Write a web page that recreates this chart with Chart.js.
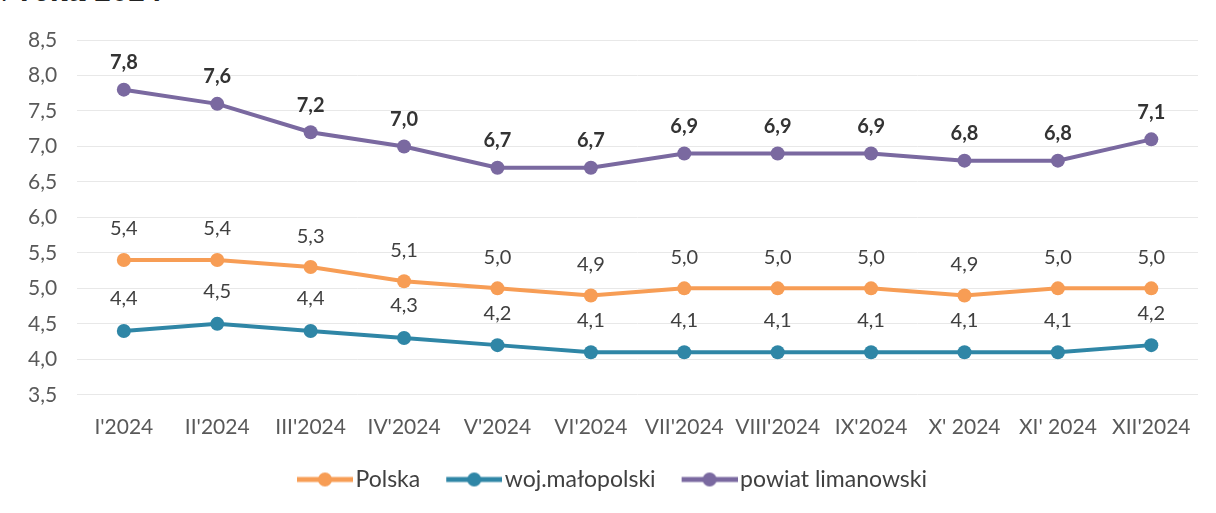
<!DOCTYPE html>
<html>
<head>
<meta charset="utf-8">
<script src="https://cdn.jsdelivr.net/npm/chart.js@4"></script>
<style>
  html, body { margin: 0; padding: 0; background: #fff; }
  #wrap { position: relative; width: 1216px; height: 513px; overflow: hidden; }
  #title { position: absolute; left: -10px; top: -27px; font: italic bold 34px "Liberation Serif", serif; color: #222; line-height: 34px; white-space: nowrap; }
  canvas { position: absolute; left: 0; top: 0; }
</style>
</head>
<body>
<div id="wrap">
  <div id="title">w roku 2024</div>
  <canvas id="chart" width="1216" height="513"></canvas>
</div>
<script>
const months = ["I'2024", "II'2024", "III'2024", "IV'2024", "V'2024", "VI'2024",
    "VII'2024", "VIII'2024", "IX'2024", "X' 2024", "XI' 2024", "XII'2024"];
const polska = [5.4, 5.4, 5.3, 5.1, 5.0, 4.9, 5.0, 5.0, 5.0, 4.9, 5.0, 5.0];
const malopolska = [4.4, 4.5, 4.4, 4.3, 4.2, 4.1, 4.1, 4.1, 4.1, 4.1, 4.1, 4.2];
const limanowski = [7.8, 7.6, 7.2, 7.0, 6.7, 6.7, 6.9, 6.9, 6.9, 6.8, 6.8, 7.1];
const yTicks = [3.5, 4.0, 4.5, 5.0, 5.5, 6.0, 6.5, 7.0, 7.5, 8.0, 8.5];

const FONT = 'Lato, "Noto Sans", sans-serif';
const fmt = v => v.toFixed(1).replace('.', ',');

// ikonka legendy: pusty odstęp + kreska z kropką
function legendIcon(color) {
    const c = document.createElement('canvas');
    c.width = 83; c.height = 16;
    const ctx = c.getContext('2d');
    ctx.strokeStyle = color;
    ctx.lineWidth = 5;
    ctx.beginPath();
    ctx.moveTo(27, 8);
    ctx.lineTo(83, 8);
    ctx.stroke();
    ctx.fillStyle = color;
    ctx.beginPath();
    ctx.arc(55, 8, 7, 0, Math.PI * 2);
    ctx.fill();
    return c;
}

const valueLabels = {
    id: 'valueLabels',
    afterDatasetsDraw(chart) {
        const ctx = chart.ctx;
        ctx.save();
        ctx.textAlign = 'center';
        ctx.textBaseline = 'middle';
        chart.data.datasets.forEach((ds, i) => {
            const meta = chart.getDatasetMeta(i);
            ctx.font = (ds.boldLabels ? 'bold ' : '') + '20px ' + FONT;
            ctx.fillStyle = ds.boldLabels ? '#333333' : '#404040';
            meta.data.forEach((pt, j) => {
                ctx.fillText(fmt(ds.data[j]), pt.x, pt.y - ds.labelOffset);
            });
        });
        ctx.restore();
    }
};

function series(label, data, color, offset, bold) {
    return {
        label: label,
        data: data,
        borderColor: color,
        backgroundColor: color,
        borderWidth: 4,
        pointRadius: 7,
        pointHoverRadius: 7,
        pointBackgroundColor: color,
        pointBorderWidth: 0,
        tension: 0,
        labelOffset: offset,
        boldLabels: bold,
        icon: legendIcon(color)
    };
}

new Chart(document.getElementById('chart'), {
    type: 'line',
    data: {
        labels: months,
        datasets: [
            series('Polska', polska, '#F79D55', 31, false),
            series('woj.małopolski', malopolska, '#2F86A6', 32, false),
            series('powiat limanowski', limanowski, '#7A69A0', 27, true)
        ]
    },
    plugins: [valueLabels],
    options: {
        responsive: false,
        animation: false,
        events: [],
        layout: { padding: { left: 8, right: 18, top: 40, bottom: 12 } },
        scales: {
            x: {
                offset: true,
                grid: { display: false, drawTicks: false },
                border: { display: false },
                ticks: { color: '#595959', font: { family: FONT, size: 21 }, padding: 20, maxRotation: 0, autoSkip: false }
            },
            y: {
                min: 3.5,
                max: 8.5,
                afterBuildTicks: axis => { axis.ticks = yTicks.map(v => ({ value: v })); },
                grid: { color: '#e8e8e8', lineWidth: 1, drawTicks: false },
                border: { display: false },
                ticks: { color: '#595959', font: { family: FONT, size: 21 }, padding: 20, callback: v => fmt(v) }
            }
        },
        plugins: {
            legend: {
                position: 'bottom',
                labels: {
                    color: '#404040',
                    font: { family: FONT, size: 23 },
                    usePointStyle: true,
                    pointStyleWidth: 65,
                    boxHeight: 16,
                    padding: 8,
                    generateLabels: chart => chart.data.datasets.map((ds, i) => ({
                        text: ds.label,
                        pointStyle: ds.icon,
                        fillStyle: ds.borderColor,
                        strokeStyle: ds.borderColor,
                        lineWidth: 0,
                        fontColor: '#404040',
                        hidden: false,
                        datasetIndex: i
                    }))
                }
            },
            tooltip: { enabled: false }
        }
    }
});
</script>
</body>
</html>
